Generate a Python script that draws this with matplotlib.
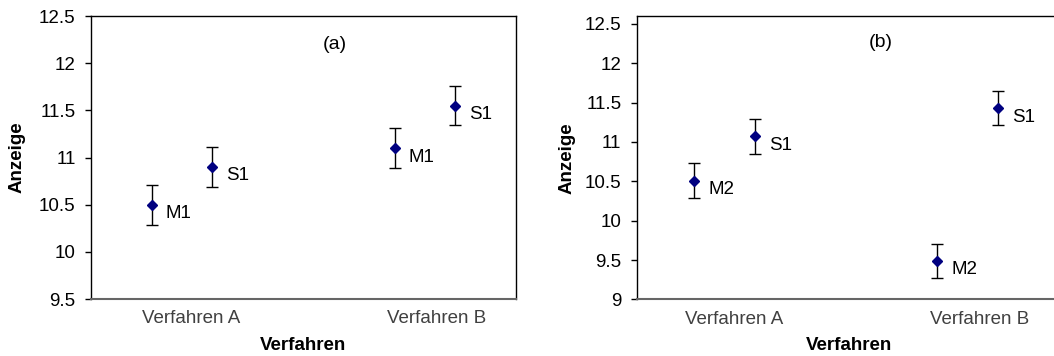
import matplotlib.pyplot as plt

plt.rcParams['font.family'] = ['Liberation Sans', 'DejaVu Sans']

# x positions of the four measurement points and the category labels
x_pos = [1, 2, 5, 6]
cat_pos = [1.65, 5.7]
cat_labels = ["Verfahren A", "Verfahren B"]

# panel (a)
a_vals = [10.50, 10.90, 11.10, 11.55]
a_err = [0.21, 0.21, 0.21, 0.21]
a_names = ["M1", "S1", "M1", "S1"]

# panel (b)
b_vals = [10.51, 11.07, 9.49, 11.43]
b_err = [0.22, 0.22, 0.22, 0.22]
b_names = ["M2", "S1", "M2", "S1"]

FS = 13.5

fig = plt.figure(figsize=(10.54, 3.56), dpi=100)
ax_a = fig.add_axes([0.0863, 0.160, 0.4032, 0.795])
ax_b = fig.add_axes([0.6041, 0.159, 0.4032, 0.796])


def draw_panel(ax, vals, err, names, ylim, yticks, tag, tag_y, xoff):
    ax.errorbar(x_pos, vals, yerr=err, fmt="D", color="#000080",
                markersize=5, ecolor="black", elinewidth=1,
                capsize=4.3, capthick=1)
    for x, v, n in zip(x_pos, vals, names):
        ax.annotate(n, (x, v), xytext=(10, -6.5), textcoords="offset points",
                    ha="left", va="center", fontsize=FS)
    ax.set_xlim(0 + xoff, 7 + xoff)
    ax.set_ylim(*ylim)
    ax.set_yticks(yticks)
    ax.set_yticklabels([f"{t:g}" for t in yticks])
    ax.set_xticks(cat_pos)
    ax.set_xticklabels(cat_labels, color="#404040")
    ax.tick_params(axis="x", length=0, pad=8, labelsize=FS)
    ax.tick_params(axis="y", length=4, width=1, pad=7, labelsize=FS)
    for side in ["top", "right", "left"]:
        ax.spines[side].set_color("black")
        ax.spines[side].set_linewidth(1)
    ax.spines["bottom"].set_color("#666666")
    ax.spines["bottom"].set_linewidth(1.5)
    ax.set_xlabel("Verfahren", fontsize=FS, fontweight="bold", va="center")
    ax.xaxis.set_label_coords(0.5, -0.163)
    ax.set_ylabel("Anzeige", fontsize=FS, fontweight="bold", va="center")
    ax.text(0.574, tag_y, tag, transform=ax.transAxes, ha="center",
            va="center", fontsize=FS + 0.5)


draw_panel(ax_a, a_vals, a_err, a_names, (9.5, 12.5),
           [9.5, 10, 10.5, 11, 11.5, 12, 12.5], "(a)", 0.898, 0.0)
ax_a.yaxis.set_label_coords(-0.174, 0.5)

draw_panel(ax_b, b_vals, b_err, b_names, (9, 12.6),
           [9, 9.5, 10, 10.5, 11, 11.5, 12, 12.5], "(b)", 0.905, 0.05)
ax_b.yaxis.set_label_coords(-0.164, 0.5)

fig.savefig("out.png", dpi=100)
